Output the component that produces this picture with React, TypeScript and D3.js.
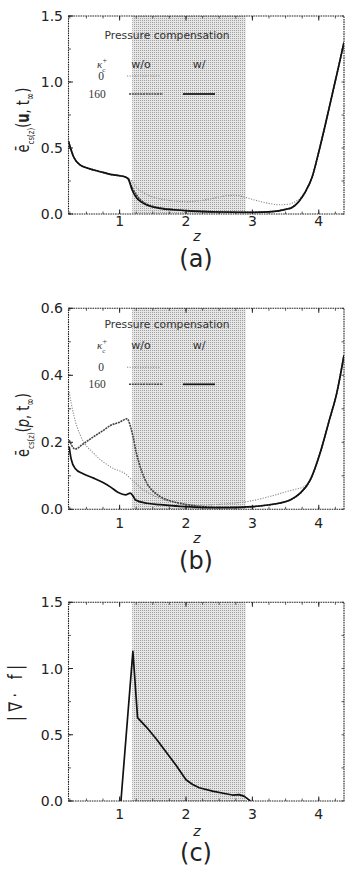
import React from "react";
import * as d3 from "d3";

const WIDTH = 345;
const HEIGHT = 869;
const LEFT = 68.5;
const RIGHT = 344;

const X_DOMAIN: [number, number] = [0.23, 4.38];
const X_TICKS = [1, 2, 3, 4];
const SHADE: [number, number] = [1.19, 2.9];

// panel (a): e_cs(z)(u, t_inf)
const zA160w = [0.23, 0.31, 0.41, 0.5, 0.61, 0.75, 0.86, 1.0, 1.09, 1.13, 1.19, 1.26, 1.33, 1.41, 1.5, 1.61, 1.8, 2.1, 2.5, 3.0, 3.3, 3.5, 3.6, 3.7, 3.8, 3.9, 4.0, 4.1, 4.2, 4.3, 4.38];
const vA160w = [0.55, 0.43, 0.37, 0.35, 0.333, 0.315, 0.3, 0.29, 0.28, 0.265, 0.18, 0.12, 0.09, 0.068, 0.053, 0.043, 0.032, 0.022, 0.015, 0.012, 0.018, 0.035, 0.05, 0.095, 0.17, 0.28, 0.47, 0.68, 0.9, 1.12, 1.3];
const zA160wo = [0.23, 0.31, 0.41, 0.5, 0.61, 0.75, 0.86, 1.0, 1.09, 1.13, 1.19, 1.26, 1.33, 1.41, 1.5, 1.61, 1.8, 2.1, 2.5, 3.0, 3.3, 3.5, 3.6, 3.7, 3.8, 3.9, 4.0, 4.1, 4.2, 4.3, 4.38];
const vA160wo = [0.55, 0.43, 0.37, 0.35, 0.333, 0.315, 0.3, 0.29, 0.28, 0.268, 0.2, 0.14, 0.1, 0.075, 0.058, 0.046, 0.034, 0.024, 0.016, 0.013, 0.019, 0.036, 0.051, 0.095, 0.17, 0.28, 0.47, 0.68, 0.9, 1.12, 1.3];
const zA0wo = [0.23, 0.31, 0.41, 0.5, 0.61, 0.75, 0.86, 1.0, 1.09, 1.13, 1.19, 1.26, 1.4, 1.6, 1.8, 2.0, 2.2, 2.4, 2.6, 2.75, 2.9, 3.1, 3.25, 3.41, 3.55, 3.65, 3.72, 3.8, 3.9, 4.0, 4.1, 4.2, 4.3, 4.38];
const vA0wo = [0.55, 0.43, 0.37, 0.35, 0.333, 0.315, 0.3, 0.29, 0.28, 0.272, 0.245, 0.2, 0.15, 0.115, 0.1, 0.093, 0.1, 0.118, 0.138, 0.142, 0.125, 0.097, 0.08, 0.07, 0.075, 0.095, 0.12, 0.175, 0.28, 0.47, 0.68, 0.9, 1.12, 1.3];

// panel (b): e_cs(z)(p, t_inf)
const zB160w = [0.24, 0.27, 0.33, 0.45, 0.61, 0.75, 0.86, 0.98, 1.09, 1.16, 1.2, 1.24, 1.41, 1.61, 1.91, 2.2, 2.5, 2.8, 3.0, 3.2, 3.4, 3.57, 3.72, 3.87, 4.02, 4.16, 4.27, 4.38];
const vB160w = [0.187, 0.15, 0.122, 0.106, 0.093, 0.08, 0.067, 0.05, 0.043, 0.048, 0.04, 0.028, 0.018, 0.014, 0.009, 0.006, 0.005, 0.006, 0.008, 0.012, 0.018, 0.028, 0.048, 0.087, 0.168, 0.267, 0.346, 0.46];
const zB160wo = [0.24, 0.33, 0.45, 0.61, 0.75, 0.86, 1.0, 1.11, 1.19, 1.25, 1.31, 1.41, 1.5, 1.61, 1.75, 1.91, 2.2, 2.5, 2.8, 3.0, 3.2, 3.4, 3.57, 3.72, 3.87, 4.02, 4.16, 4.27, 4.38];
const vB160wo = [0.207, 0.18, 0.195, 0.217, 0.235, 0.25, 0.26, 0.27, 0.227, 0.17, 0.127, 0.078, 0.055, 0.038, 0.026, 0.018, 0.009, 0.006, 0.006, 0.008, 0.012, 0.018, 0.028, 0.048, 0.087, 0.168, 0.267, 0.346, 0.46];
const zB0wo = [0.24, 0.31, 0.41, 0.61, 0.86, 1.11, 1.19, 1.36, 1.61, 1.9, 2.2, 2.5, 2.8, 2.92, 3.2, 3.52, 3.65, 3.75, 3.87, 4.02, 4.16, 4.27, 4.38];
const vB0wo = [0.35, 0.28, 0.22, 0.167, 0.127, 0.102, 0.087, 0.058, 0.033, 0.018, 0.012, 0.015, 0.02, 0.023, 0.035, 0.053, 0.06, 0.065, 0.087, 0.168, 0.267, 0.346, 0.46];

// panel (c): |div f|
const zC = [1.02, 1.2, 1.27, 1.4, 1.55, 1.7, 1.85, 2.0, 2.1, 2.2, 2.4, 2.6, 2.7, 2.8, 2.88, 2.97];
const vC = [0, 1.13, 0.63, 0.56, 0.47, 0.37, 0.27, 0.16, 0.125, 0.1, 0.075, 0.055, 0.045, 0.048, 0.035, 0];

const Y_TICKS_A = [0, 0.5, 1.0, 1.5];
const Y_TICKS_B = [0, 0.2, 0.4, 0.6];
const Y_TICKS_C = [0, 0.5, 1.0, 1.5];

const STYLES: Record<string, { stroke: string; width: number; dash?: string }> = {
  k0wo: { stroke: "#8c8c8c", width: 1.1, dash: "1.2 1.4" },
  k160wo: { stroke: "#444", width: 1.6, dash: "2 0.8" },
  k160w: { stroke: "#111", width: 1.7 },
};

const SANS = "'DejaVu Sans', Verdana, sans-serif";
const SERIF = "'Liberation Serif', 'DejaVu Serif', serif";

type Series = { key: string; z: number[]; v: number[] };

interface PanelCfg {
  id: string;
  top: number;
  bottom: number;
  yDomain: [number, number];
  yTicks: number[];
  yMinor: number;
  series: Series[];
  curve: d3.CurveFactory;
  legend?: { title: number; head: number; r0: number; r1: number };
  xLabelY: number;
  zLabelY: number;
  tagY: number;
  tag: string;
  yTitle: React.ReactNode;
  yTitleX: number;
  yTitleY: number;
  yTitleSize: number;
  yTitleLen?: number;
}

const zip = (z: number[], v: number[]) => z.map((d, i) => [d, v[i]] as [number, number]);

function Panel({ cfg }: { cfg: PanelCfg }) {
  const x = d3.scaleLinear().domain(X_DOMAIN).range([LEFT, RIGHT]);
  const y = d3.scaleLinear().domain(cfg.yDomain).range([cfg.bottom, cfg.top]);
  const line = d3
    .line<[number, number]>()
    .x((d) => x(d[0]))
    .y((d) => y(d[1]))
    .curve(cfg.curve);

  const xMinor = d3.range(0.25, 4.38, 0.25).filter((t) => t > X_DOMAIN[0]);
  const yMinor = d3.range(cfg.yDomain[0], cfg.yDomain[1] + 1e-9, cfg.yMinor);
  const fmt = d3.format(".1f");
  const lg = cfg.legend;

  return (
    <g>
      <defs>
        <clipPath id={`clip-${cfg.id}`}>
          <rect x={LEFT} y={cfg.top} width={RIGHT - LEFT} height={cfg.bottom - cfg.top} />
        </clipPath>
      </defs>
      <rect
        x={x(SHADE[0])}
        y={cfg.top}
        width={x(SHADE[1]) - x(SHADE[0])}
        height={cfg.bottom - cfg.top}
        fill="url(#dots)"
      />
      {xMinor.map((t) => (
        <g key={`xm${t}`} stroke="#333" strokeWidth={0.8}>
          <line x1={x(t)} x2={x(t)} y1={cfg.bottom} y2={cfg.bottom - 2.5} />
          <line x1={x(t)} x2={x(t)} y1={cfg.top} y2={cfg.top + 2.5} />
        </g>
      ))}
      {X_TICKS.map((t) => (
        <g key={`x${t}`}>
          <line x1={x(t)} x2={x(t)} y1={cfg.bottom} y2={cfg.bottom - 4.5} stroke="#222" strokeWidth={1} />
          <line x1={x(t)} x2={x(t)} y1={cfg.top} y2={cfg.top + 4.5} stroke="#222" strokeWidth={1} />
          <text x={x(t)} y={cfg.xLabelY} textAnchor="middle" fontSize={14} fontFamily={SANS} fill="#222">
            {t}
          </text>
        </g>
      ))}
      {yMinor.map((t) => (
        <g key={`ym${t}`} stroke="#333" strokeWidth={0.8}>
          <line x1={LEFT} x2={LEFT + 2.5} y1={y(t)} y2={y(t)} />
          <line x1={RIGHT} x2={RIGHT - 2.5} y1={y(t)} y2={y(t)} />
        </g>
      ))}
      {cfg.yTicks.map((t) => (
        <g key={`y${t}`}>
          <line x1={LEFT} x2={LEFT + 4.5} y1={y(t)} y2={y(t)} stroke="#222" strokeWidth={1} />
          <text x={63} y={y(t) + 5} textAnchor="end" fontSize={14} fontFamily={SANS} fill="#222">
            {fmt(t)}
          </text>
        </g>
      ))}
      <g clipPath={`url(#clip-${cfg.id})`}>
        {cfg.series.map((s) => {
          const st = STYLES[s.key];
          return (
            <path
              key={s.key}
              d={line(zip(s.z, s.v)) || ""}
              fill="none"
              stroke={st.stroke}
              strokeWidth={st.width}
              strokeDasharray={st.dash}
              strokeLinejoin="round"
            />
          );
        })}
      </g>
      <rect
        x={LEFT}
        y={cfg.top}
        width={RIGHT - LEFT}
        height={cfg.bottom - cfg.top}
        fill="none"
        stroke="#222"
        strokeWidth={1.1}
        strokeDasharray="1.6 0.8"
      />
      {lg && (
        <g fontFamily={SANS} fill="#333">
          <text x={167} y={cfg.top + lg.title} textAnchor="middle" fontSize={10.5} textLength={125} lengthAdjust="spacingAndGlyphs">
            Pressure compensation
          </text>
          <text x={97} y={cfg.top + lg.head} fontSize={11} fontFamily={SERIF} fontStyle="italic">
            κ
            <tspan dy={4} fontSize={7} fontStyle="normal">c</tspan>
            <tspan dx={-3} dy={-9} fontSize={8} fontStyle="normal">+</tspan>
          </text>
          <text x={141} y={cfg.top + lg.head} textAnchor="middle" fontSize={11}>w/o</text>
          <text x={199} y={cfg.top + lg.head} textAnchor="middle" fontSize={11}>w/</text>
          <text x={101} y={cfg.top + lg.r0 + 4} textAnchor="middle" fontSize={11.5} fontFamily={SERIF}>0</text>
          <text x={97} y={cfg.top + lg.r1 + 4} textAnchor="middle" fontSize={11.5} fontFamily={SERIF}>160</text>
          {[
            { key: "k0wo", x1: 127, x2: 160, yy: lg.r0 },
            { key: "k160wo", x1: 129, x2: 163, yy: lg.r1 },
            { key: "k160w", x1: 183, x2: 215, yy: lg.r1 },
          ].map((l) => (
            <line
              key={l.key}
              x1={l.x1}
              x2={l.x2}
              y1={cfg.top + l.yy}
              y2={cfg.top + l.yy}
              stroke={STYLES[l.key].stroke}
              strokeWidth={STYLES[l.key].width}
              strokeDasharray={STYLES[l.key].dash}
            />
          ))}
        </g>
      )}
      <text
        transform={`translate(${cfg.yTitleX},${cfg.yTitleY}) rotate(-90) scale(1,1.35)`}
        textAnchor="middle"
        fontSize={cfg.yTitleSize}
        fontFamily={SANS}
        fill="#222"
        textLength={cfg.yTitleLen}
        lengthAdjust={cfg.yTitleLen ? "spacing" : undefined}
      >
        {cfg.yTitle}
      </text>
      <text x={197} y={cfg.zLabelY} textAnchor="middle" fontSize={14} fontStyle="italic" fontFamily={SANS} fill="#222">
        z
      </text>
      <text x={196} y={cfg.tagY} textAnchor="middle" fontSize={24} fontFamily={SANS} fill="#222">
        {cfg.tag}
      </text>
    </g>
  );
}

const titleE = (arg: React.ReactNode) => (
  <>
    <tspan>ē</tspan>
    <tspan dy={4} fontSize={7}>cs(z)</tspan>
    <tspan dy={-4}>(</tspan>
    {arg}
    <tspan>, t</tspan>
    <tspan dy={4} fontSize={9}>∞</tspan>
    <tspan dy={-4}>)</tspan>
  </>
);

const PANELS: PanelCfg[] = [
  {
    id: "a",
    top: 16,
    bottom: 214,
    yDomain: [0, 1.5],
    yTicks: Y_TICKS_A,
    yMinor: 0.25,
    series: [
      { key: "k0wo", z: zA0wo, v: vA0wo },
      { key: "k160wo", z: zA160wo, v: vA160wo },
      { key: "k160w", z: zA160w, v: vA160w },
    ],
    curve: d3.curveMonotoneX,
    legend: { title: 23, head: 52, r0: 60, r1: 78 },
    xLabelY: 226,
    zLabelY: 241,
    tagY: 267,
    tag: "(a)",
    yTitle: titleE(<tspan fontWeight="bold">u</tspan>),
    yTitleX: 29,
    yTitleY: 120,
    yTitleSize: 13,
  },
  {
    id: "b",
    top: 308.3,
    bottom: 509.3,
    yDomain: [0, 0.6],
    yTicks: Y_TICKS_B,
    yMinor: 0.1,
    series: [
      { key: "k0wo", z: zB0wo, v: vB0wo },
      { key: "k160wo", z: zB160wo, v: vB160wo },
      { key: "k160w", z: zB160w, v: vB160w },
    ],
    curve: d3.curveMonotoneX,
    legend: { title: 20, head: 41, r0: 59, r1: 76 },
    xLabelY: 528,
    zLabelY: 543,
    tagY: 569,
    tag: "(b)",
    yTitle: titleE(<tspan fontStyle="italic">p</tspan>),
    yTitleX: 29,
    yTitleY: 425,
    yTitleSize: 13,
  },
  {
    id: "c",
    top: 602.3,
    bottom: 801,
    yDomain: [0, 1.5],
    yTicks: Y_TICKS_C,
    yMinor: 0.25,
    series: [{ key: "k160w", z: zC, v: vC }],
    curve: d3.curveLinear,
    xLabelY: 819,
    zLabelY: 836,
    tagY: 861,
    tag: "(c)",
    yTitle: <tspan>|∇· f|</tspan>,
    yTitleX: 22,
    yTitleY: 693,
    yTitleSize: 14,
    yTitleLen: 56,
  },
];

export default function App() {
  return (
    <div style={{ position: "absolute", left: 0, top: 0 }}>
      <svg width={WIDTH} height={HEIGHT} style={{ display: "block", background: "#fff" }}>
        <defs>
          <pattern id="dots" width={2} height={2} patternUnits="userSpaceOnUse">
            <rect width={2} height={2} fill="#e6e6e6" />
            <rect width={1} height={1} fill="#a0a0a0" />
          </pattern>
        </defs>
        {PANELS.map((p) => (
          <Panel key={p.id} cfg={p} />
        ))}
      </svg>
    </div>
  );
}
